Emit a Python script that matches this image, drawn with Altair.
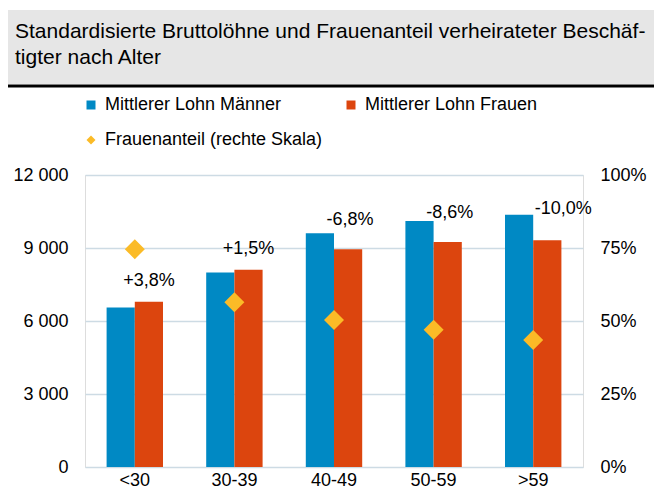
import altair as alt
import pandas as pd

categories = ["<30", "30-39", "40-49", "50-59", ">59"]
lohn_maenner = [6550, 7990, 9610, 10110, 10370]
lohn_frauen = [6790, 8110, 8950, 9250, 9320]
frauenanteil = [0.746, 0.564, 0.503, 0.470, 0.435]
diff_labels = ["+3,8%", "+1,5%", "-6,8%", "-8,6%", "-10,0%"]
series_names = ["Mittlerer Lohn Männer", "Mittlerer Lohn Frauen", "Frauenanteil (rechte Skala)"]
series_colors = ["#0089c4", "#dc450e", "#fbbb27"]
left_ticks = [0, 3000, 6000, 9000, 12000]
right_ticks = [0, 0.25, 0.5, 0.75, 1.0]
title_lines = ["Standardisierte Bruttolöhne und Frauenanteil verheirateter Beschäf-", "tigter nach Alter"]

FONT = "Liberation Sans"
FS = 18
BAR_W = 28.2

men_df = pd.DataFrame({"cat": categories, "series": series_names[0], "value": lohn_maenner})
women_df = pd.DataFrame({"cat": categories, "series": series_names[1], "value": lohn_frauen})
share_df = pd.DataFrame({"cat": categories, "series": series_names[2], "share": frauenanteil})
label_df = pd.DataFrame({"cat": categories, "value": lohn_frauen, "label": diff_labels})
dummy = pd.DataFrame({"a": [0]})

x_scale = alt.Scale(domain=categories, paddingInner=0.43, paddingOuter=0.215)
color_scale = alt.Scale(domain=series_names, range=series_colors)
shape_scale = alt.Scale(domain=series_names, range=["square", "square", "diamond"])
y_left = alt.Scale(domain=[0, 12000])

legend = alt.Legend(
    title=None, orient="none", legendX=-3, legendY=-79, columns=2, direction="horizontal",
    columnPadding=19, rowPadding=17, labelFontSize=FS, labelFont=FONT,
    labelColor="#000000", labelLimit=400, symbolSize=81, labelOffset=5,
    symbolStrokeWidth=0, padding=0, symbolOffset=0,
)

x_axis = alt.Axis(title=None, labelAngle=0, ticks=False, domain=False, grid=False,
                  labelPadding=4, labelFontSize=FS, labelFont=FONT, labelColor="#000000")
left_axis = alt.Axis(title=None, values=left_ticks, ticks=False, domain=False, labelPadding=17,
                     labelFontSize=FS, labelFont=FONT, labelColor="#000000",
                     labelExpr="replace(format(datum.value, ',d'), ',', ' ')",
                     grid=True, gridColor="#cddbe4", gridWidth=1.6)
right_axis = alt.Axis(title=None, values=right_ticks, ticks=False, domain=False, labelPadding=17,
                      labelFontSize=FS, labelFont=FONT, labelColor="#000000", format=".0%",
                      grid=False, orient="right")


def bar_layer(df, offset):
    return alt.Chart(df).mark_bar(size=BAR_W, xOffset=offset).encode(
        x=alt.X("cat:N", scale=x_scale, axis=x_axis, sort=categories),
        y=alt.Y("value:Q", scale=y_left, axis=left_axis),
        color=alt.Color("series:N", scale=color_scale, legend=legend),
    )


bars_men = bar_layer(men_df, -BAR_W / 2)
bars_women = bar_layer(women_df, BAR_W / 2)

text_base = alt.Chart(label_df).encode(
    x=alt.X("cat:N", scale=x_scale, axis=x_axis, sort=categories),
    y=alt.Y("value:Q", scale=y_left, axis=left_axis),
    text="label:N",
)
pos_labels = text_base.transform_filter("indexof(datum.label, '-') != 0").mark_text(
    fontSize=FS, font=FONT, color="#000000", baseline="middle", dy=-21, dx=BAR_W / 2)
neg_labels = text_base.transform_filter(
    "indexof(datum.label, '-') == 0 && datum.cat != '>59'").mark_text(
    fontSize=FS, font=FONT, color="#000000", baseline="middle", dy=-29, dx=BAR_W / 2 + 2)
last_label = text_base.transform_filter("datum.cat == '>59'").mark_text(
    fontSize=FS, font=FONT, color="#000000", baseline="middle", dy=-31, dx=BAR_W / 2 + 16)

points = alt.Chart(share_df).mark_point(filled=True, size=400, opacity=1).encode(
    x=alt.X("cat:N", scale=x_scale, axis=x_axis, sort=categories),
    y=alt.Y("share:Q", scale=alt.Scale(domain=[0, 1]), axis=right_axis),
    color=alt.Color("series:N", scale=color_scale, legend=legend),
    shape=alt.Shape("series:N", scale=shape_scale, legend=legend),
)

title_box = alt.Chart(dummy).mark_rect(color="#e6e6e6").encode(
    x=alt.value(-77), x2=alt.value(569), y=alt.value(-165), y2=alt.value(-91))
title_rule = alt.Chart(dummy).mark_rule(color="#000000", strokeWidth=3).encode(
    x=alt.value(-77), x2=alt.value(569), y=alt.value(-89))
title1 = alt.Chart(dummy).mark_text(text=title_lines[0], align="left", baseline="alphabetic",
                                    fontSize=21, font=FONT, color="#000000").encode(
    x=alt.value(-70), y=alt.value(-137))
title2 = alt.Chart(dummy).mark_text(text=title_lines[1], align="left", baseline="alphabetic",
                                    fontSize=21, font=FONT, color="#000000").encode(
    x=alt.value(-70), y=alt.value(-111))

left_layer = alt.layer(title_box, title_rule, title1, title2, bars_men, bars_women,
                       pos_labels, neg_labels, last_label)
chart = alt.layer(left_layer, points).resolve_scale(y="independent").properties(
    width=498, height=292,
    autosize=alt.AutoSizeParams(type="none"),
    padding={"left": 77, "top": 167, "right": 71, "bottom": 23},
).configure_view(stroke="transparent", strokeWidth=0).configure_axisX(grid=False).configure(
    background="#ffffff")

chart.save("out.html", embed_options={"renderer": "svg", "actions": False})
